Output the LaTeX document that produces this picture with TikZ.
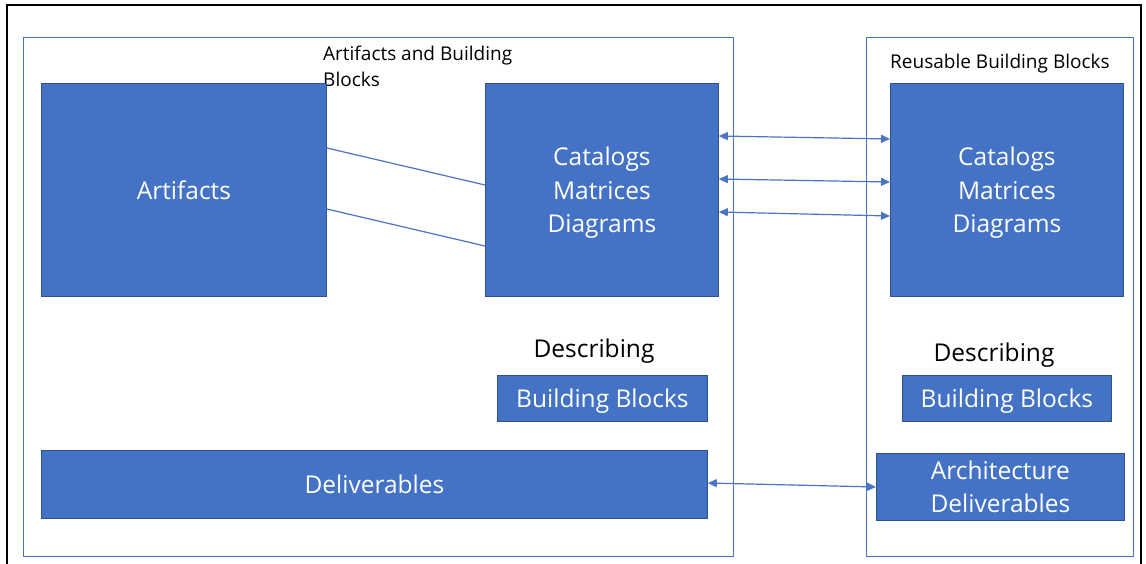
\documentclass[tikz,border=0pt]{standalone}
\usepackage{fontspec}
\setmainfont{Open Sans}
\usetikzlibrary{arrows.meta}
\definecolor{bfill}{HTML}{4472C4}
\definecolor{bdraw}{HTML}{2F528F}
\definecolor{cline}{HTML}{4A74C6}
\tikzset{
  blk/.style={draw=bdraw, fill=bfill, line width=0.8pt, text=white, align=center, inner sep=0pt, text depth=0pt, font=\fontsize{24.5}{33.5}\selectfont},
  cont/.style={draw=cline, line width=1pt, inner sep=0pt},
  lab/.style={text=black, inner sep=0pt, align=left},
  conn/.style={draw=cline, line width=1.2pt},
  biarrow/.style={conn, {Triangle[length=9pt,width=8pt]}-{Triangle[length=9pt,width=8pt]}}
}
\begin{document}
\begin{tikzpicture}[x=1pt,y=-1pt]
\useasboundingbox (0,0) rectangle (1146,564);
\fill[white] (0,0) rectangle (1146,564);
% screenshot frame
\draw[black, line width=2.5pt] (7,566) -- (7,5) -- (1141,5) -- (1141,566);
% containers
\node[cont, minimum width=710pt, minimum height=519pt, anchor=north west] (lcont) at (23,37) {};
\node[cont, minimum width=267pt, minimum height=519pt, anchor=north west] (rcont) at (866,37) {};
% labels
\node[lab, anchor=north west, font=\fontsize{19}{26}\selectfont] (lt) at (323,45.5) {Artifacts and Building\\Blocks};
\node[lab, anchor=base west, font=\fontsize{19}{26}\selectfont] (rt) at (890,68.5) {Reusable Building Blocks};
% boxes
\node[blk, minimum width=285pt, minimum height=213pt, anchor=north west] (art) at (41,83) {Artifacts};
\node[blk, minimum width=233pt, minimum height=213pt, anchor=north west] (catl) at (485,83) {Catalogs\\Matrices\\Diagrams};
\node[blk, minimum width=233pt, minimum height=213pt, anchor=north west] (catr) at (890,83) {Catalogs\\Matrices\\Diagrams};
\node[lab, anchor=base, font=\fontsize{24.5}{30}\selectfont] (dl) at (594,357) {Describing};
\node[lab, anchor=base, font=\fontsize{24.5}{30}\selectfont] (dr) at (994,361) {Describing};
\node[blk, minimum width=210pt, minimum height=46pt, anchor=north west] (bbl) at (497,375) {Building Blocks};
\node[blk, minimum width=209pt, minimum height=46pt, anchor=north west] (bbr) at (902,375) {Building Blocks};
\node[blk, minimum width=666pt, minimum height=68pt, anchor=north west] (del) at (41,450) {Deliverables};
\node[blk, minimum width=248pt, minimum height=67pt, anchor=north west] (adel) at (876,453) {Architecture\\Deliverables};
% connectors
\draw[conn] (art.east |- 0,148) -- (catl.west |- 0,185);
\draw[conn] (art.east |- 0,209) -- (catl.west |- 0,246);
\draw[biarrow] (catl.east |- 0,136) -- (catr.west |- 0,139);
\draw[biarrow] (catl.east |- 0,179) -- (catr.west |- 0,182);
\draw[biarrow] (catl.east |- 0,212) -- (catr.west |- 0,216);
\draw[biarrow] (del.east |- 0,483) -- (adel.west |- 0,487);
\end{tikzpicture}
\end{document}
